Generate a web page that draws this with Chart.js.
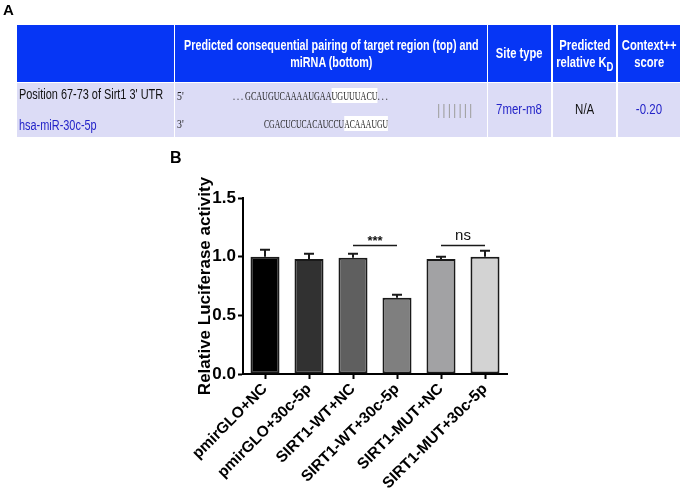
<!DOCTYPE html>
<html>
<head>
<meta charset="utf-8">
<script src="https://cdn.jsdelivr.net/npm/chart.js@4/dist/chart.umd.min.js"></script>
<style>
  html, body { margin:0; padding:0; background:#fff; }
  body { width:680px; height:499px; position:relative; overflow:hidden; font-family:"Liberation Sans", Arial, sans-serif; }
  #chartWrap { position:absolute; left:0; top:0; width:680px; height:499px; }
  .cell { position:absolute; box-sizing:border-box; }
  .hd { background:#0636f5; color:#fff; font-weight:bold; font-size:14px; line-height:17px; text-align:center; display:flex; align-items:center; justify-content:center; }
  .dt { background:#dcdcf6; }
  .nar { display:inline-block; transform:scaleX(0.8); transform-origin:center; white-space:nowrap; }
  .abs { position:absolute; white-space:nowrap; }
  .seq { font-family:"Liberation Serif", "Times New Roman", serif; font-size:13px; color:#222; transform:scaleX(0.6); transform-origin:left center; }
  .hl { background:#fff; }
  .lbl { font-weight:bold; position:absolute; font-size:15px; color:#000; }
</style>
</head>
<body>
<div id="chartWrap"><canvas id="c" width="680" height="499"></canvas></div>

<div class="lbl" style="left:3px;top:1px;">A</div>
<div class="lbl" style="left:170px;top:149px;font-size:16px;">B</div>

<!-- table header -->
<div class="cell hd" style="left:17px;top:25px;width:157px;height:57px;"></div>
<div class="cell hd" style="left:175px;top:25px;width:312px;height:57px;"><span class="nar" style="transform:scaleX(0.77);">Predicted consequential pairing of target region (top) and<br>miRNA (bottom)</span></div>
<div class="cell hd" style="left:488px;top:25px;width:63px;height:57px;"><span class="nar" style="transform:scaleX(0.8);">Site type</span></div>
<div class="cell hd" style="left:553px;top:25px;width:63px;height:57px;"><span class="nar" style="transform:scaleX(0.8);">Predicted<br>relative K<sub style="font-size:12px;line-height:0;">D</sub></span></div>
<div class="cell hd" style="left:618px;top:25px;width:62px;height:57px;"><span class="nar" style="transform:scaleX(0.8);">Context++<br>score</span></div>

<!-- table data row -->
<div class="cell dt" style="left:17px;top:83px;width:157px;height:54px;"></div>
<div class="cell dt" style="left:175px;top:83px;width:312px;height:54px;"></div>
<div class="cell dt" style="left:488px;top:83px;width:63px;height:54px;"></div>
<div class="cell dt" style="left:553px;top:83px;width:63px;height:54px;"></div>
<div class="cell dt" style="left:618px;top:83px;width:62px;height:54px;"></div>

<div class="abs" style="left:19px;top:86px;font-size:14px;color:#111;transform:scaleX(0.78);transform-origin:left center;">Position 67-73 of Sirt1 3' UTR</div>
<div class="abs" style="left:19px;top:117px;font-size:14px;color:#2424c8;transform:scaleX(0.78);transform-origin:left center;">hsa-miR-30c-5p</div>

<div class="abs seq" style="left:177px;top:88px;transform:scaleX(0.75);">5'</div>
<div class="abs seq" style="left:177px;top:116px;transform:scaleX(0.75);">3'</div>
<div class="abs seq" style="left:233px;top:88px;transform:scaleX(0.62);">. . . GCAUGUCAAAAUGAA<span class="hl">UGUUUACU</span>. . .</div>
<div class="abs seq" style="left:264px;top:116px;transform:scaleX(0.59);">CGACUCUCACAUCCU<span class="hl">ACAAAUGU</span></div>
<div class="abs" style="left:437px;top:101px;font-size:15px;color:#a0a0a0;letter-spacing:2.4px;transform:scaleX(0.85);transform-origin:left center;font-family:'Liberation Sans';">|||||||</div>

<div class="abs" style="left:488px;top:101px;width:63px;text-align:center;font-size:14px;color:#2424c8;"><span class="nar" style="transform:scaleX(0.82);">7mer-m8</span></div>
<div class="abs" style="left:553px;top:101px;width:63px;text-align:center;font-size:14px;color:#111;"><span class="nar" style="transform:scaleX(0.82);">N/A</span></div>
<div class="abs" style="left:618px;top:101px;width:62px;text-align:center;font-size:14px;color:#2424c8;"><span class="nar" style="transform:scaleX(0.82);">-0.20</span></div>

<script>
// ---- data ----
const categories = ['pmirGLO+NC', 'pmirGLO+30c-5p', 'SIRT1-WT+NC', 'SIRT1-WT+30c-5p', 'SIRT1-MUT+NC', 'SIRT1-MUT+30c-5p'];
const meanValues = [1.00, 0.98, 0.99, 0.65, 0.98, 1.00];
const errorValues = [0.06, 0.045, 0.035, 0.025, 0.02, 0.05];
const yTickValues = [0, 0.5, 1.0, 1.5];
const sigFrom = [2, 4];
const sigTo = [3, 5];
const sigLevel = [1.10, 1.10];
const sigLabels = ['***', 'ns'];

// ---- styles ----
const barFill = ['#000000', '#313131', '#5f5f5f', '#7f7f7f', '#a2a2a4', '#d3d3d3'];
const FONT = '"Liberation Sans", Arial, sans-serif';

const errorBarPlugin = {
  id: 'errorBars',
  afterDatasetsDraw(chart) {
    const ctx = chart.ctx;
    const meta = chart.getDatasetMeta(0);
    const y = chart.scales.y;
    ctx.save();
    ctx.strokeStyle = '#1a1a1a';
    ctx.lineWidth = 2;
    meta.data.forEach((bar, i) => {
      const top = y.getPixelForValue(meanValues[i] + errorValues[i]);
      const base = bar.y;
      ctx.beginPath();
      ctx.moveTo(bar.x, base);
      ctx.lineTo(bar.x, top);
      ctx.moveTo(bar.x - 5, top);
      ctx.lineTo(bar.x + 5, top);
      ctx.stroke();
    });
    // significance
    sigLabels.forEach((lab, k) => {
      const x1 = meta.data[sigFrom[k]].x;
      const x2 = meta.data[sigTo[k]].x;
      const py = Math.round(y.getPixelForValue(sigLevel[k])) + 0.5;
      ctx.beginPath();
      ctx.lineWidth = 1.5;
      ctx.moveTo(x1, py);
      ctx.lineTo(x2, py);
      ctx.stroke();
      ctx.fillStyle = '#111';
      ctx.textAlign = 'center';
      ctx.textBaseline = 'bottom';
      if (lab === 'ns') {
        ctx.font = '15px ' + FONT;
        ctx.fillText(lab, (x1 + x2) / 2, py - 2);
      } else {
        ctx.font = 'bold 13px ' + FONT;
        ctx.fillText(lab, (x1 + x2) / 2, py + 2);
      }
    });
    ctx.restore();
  }
};

new Chart(document.getElementById('c'), {
  type: 'bar',
  data: {
    labels: categories,
    datasets: [{
      data: meanValues,
      backgroundColor: barFill,
      borderColor: '#1a1a1a',
      borderWidth: 2,
      borderSkipped: false,
      barPercentage: 0.66,
      categoryPercentage: 1.0
    }]
  },
  options: {
    responsive: false,
    animation: false,
    events: [],
    layout: { padding: { left: 190, top: 198, right: 173, bottom: 0 } },
    plugins: { legend: { display: false }, tooltip: { enabled: false }, title: { display: false } },
    scales: {
      x: {
        grid: { display: true, drawOnChartArea: false, offset: false, tickLength: 5, tickWidth: 2, tickColor: '#000' },
        border: { display: true, color: '#000', width: 2 },
        ticks: {
          autoSkip: false, maxRotation: 45, minRotation: 45, padding: 1,
          color: '#000', font: { family: FONT, size: 15.5, weight: 'bold' }
        },
        afterFit(scale) { scale.height = 125; }
      },
      y: {
        min: 0, max: 1.5,
        afterBuildTicks(scale) { scale.ticks = yTickValues.map(v => ({ value: v })); },
        grid: { display: true, drawOnChartArea: false, tickLength: 5, tickWidth: 2, tickColor: '#000' },
        border: { display: true, color: '#000', width: 2 },
        ticks: {
          padding: 2, color: '#000',
          font: { family: FONT, size: 17, weight: 'bold' },
          callback: v => Number(v).toFixed(1)
        },
        title: {
          display: true, text: 'Relative Luciferase activity', color: '#000',
          font: { family: FONT, size: 17, weight: 'bold' }, padding: { top: 5, bottom: 0 }
        },
        afterFit(scale) { scale.width = 53; }
      }
    }
  },
  plugins: [errorBarPlugin]
});
</script>
</body>
</html>
